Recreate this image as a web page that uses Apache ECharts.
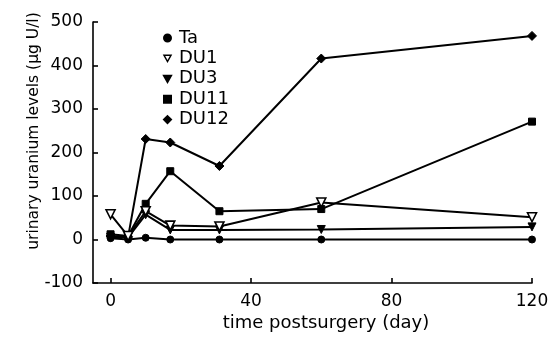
<!DOCTYPE html>
<html>
<head>
<meta charset="utf-8">
<script src="https://cdn.jsdelivr.net/npm/echarts@6/dist/echarts.min.js"></script>
<style>
  html, body { margin: 0; padding: 0; background: #fff; }
  #chart { width: 554px; height: 338px; }
</style>
</head>
<body>
<div id="chart"></div>
<script>
// Days after surgery at which urine was sampled
const days = [0, 5, 10, 17, 31, 60, 120];

// Urinary uranium (µg U/l) per implant group
const ta   = [3, 0, 4, 0, 0, 0, 0];
const du1  = [58, 8, 65, 32, 30, 85, 51];
const du3  = [5, 5, 57, 22, 22, 23, 29];
const du11 = [12, 8, 82, 157, 65, 70, 271];
const du12 = [8, 6, 231, 223, 169, 416, 468];

const xTicks = [0, 40, 80, 120];

const FONT = 'DejaVu Sans';
const INK = '#000';
const DOWN_TRIANGLE = 'path://M0,0 L10,0 L5,9 Z';

function pairs(vals) {
  return days.map((d, i) => [d, vals[i]]);
}

function lineSeries(name, vals, symbol, size, rotate, hollow) {
  return {
    name: name,
    type: 'line',
    data: pairs(vals),
    symbol: symbol,
    symbolSize: size,
    symbolRotate: rotate || 0,
    showAllSymbol: true,
    lineStyle: { color: INK, width: 2 },
    itemStyle: hollow
      ? { color: '#fff', borderColor: INK, borderWidth: 1.6 }
      : { color: INK, borderColor: INK, borderWidth: 1 },
    emphasis: { disabled: true },
    animation: false,
    z: hollow ? 4 : 3
  };
}

const chart = echarts.init(document.getElementById('chart'), null, { renderer: 'canvas' });

chart.setOption({
  backgroundColor: '#fff',
  animation: false,
  grid: { left: 93, right: 22, top: 22, bottom: 55, containLabel: false },
  legend: {
    orient: 'vertical',
    left: 158,
    top: 23,
    itemWidth: 7,
    itemHeight: 7,
    itemGap: 0.4,
    selectedMode: false,
    textStyle: { fontFamily: FONT, fontSize: 18, color: INK, lineHeight: 20, padding: [0, 0, 0, 3] },
    data: [
      { name: 'Ta', icon: 'circle' },
      { name: 'DU1', icon: DOWN_TRIANGLE, itemStyle: { color: '#fff', borderColor: INK, borderWidth: 1.5 } },
      { name: 'DU3', icon: DOWN_TRIANGLE },
      { name: 'DU11', icon: 'rect' },
      { name: 'DU12', icon: 'diamond' }
    ]
  },
  xAxis: {
    type: 'value',
    min: -5,
    max: 120,
    splitLine: { show: false },
    axisLine: { show: true, onZero: false, lineStyle: { color: INK, width: 1.6 } },
    axisTick: { show: true, inside: true, length: 5, customValues: xTicks, lineStyle: { color: INK, width: 1.6 } },
    axisLabel: { customValues: xTicks, fontFamily: FONT, fontSize: 17, color: INK, margin: 10 }
  },
  yAxis: {
    type: 'value',
    min: -100,
    max: 500,
    interval: 100,
    splitLine: { show: false },
    axisLine: { show: true, onZero: false, lineStyle: { color: INK, width: 1.6 } },
    axisTick: { show: true, inside: true, length: 5, lineStyle: { color: INK, width: 1.6 } },
    axisLabel: { fontFamily: FONT, fontSize: 17, color: INK, margin: 10 }
  },
  graphic: [
    {
      type: 'text',
      x: 326,
      y: 323,
      style: {
        text: 'time postsurgery (day)',
        font: '18px "DejaVu Sans"',
        fill: INK,
        align: 'center',
        verticalAlign: 'middle'
      }
    },
    {
      type: 'text',
      x: 34,
      y: 131,
      rotation: Math.PI / 2,
      style: {
        text: 'urinary uranium levels (µg U/l)',
        font: '15.5px "DejaVu Sans"',
        fill: INK,
        align: 'center',
        verticalAlign: 'middle'
      }
    }
  ],
  series: [
    lineSeries('Ta', ta, 'circle', 7),
    lineSeries('DU1', du1, DOWN_TRIANGLE, 9, 0, true),
    lineSeries('DU3', du3, DOWN_TRIANGLE, 8),
    lineSeries('DU11', du11, 'rect', 7),
    lineSeries('DU12', du12, 'diamond', 9)
  ]
});
</script>
</body>
</html>
